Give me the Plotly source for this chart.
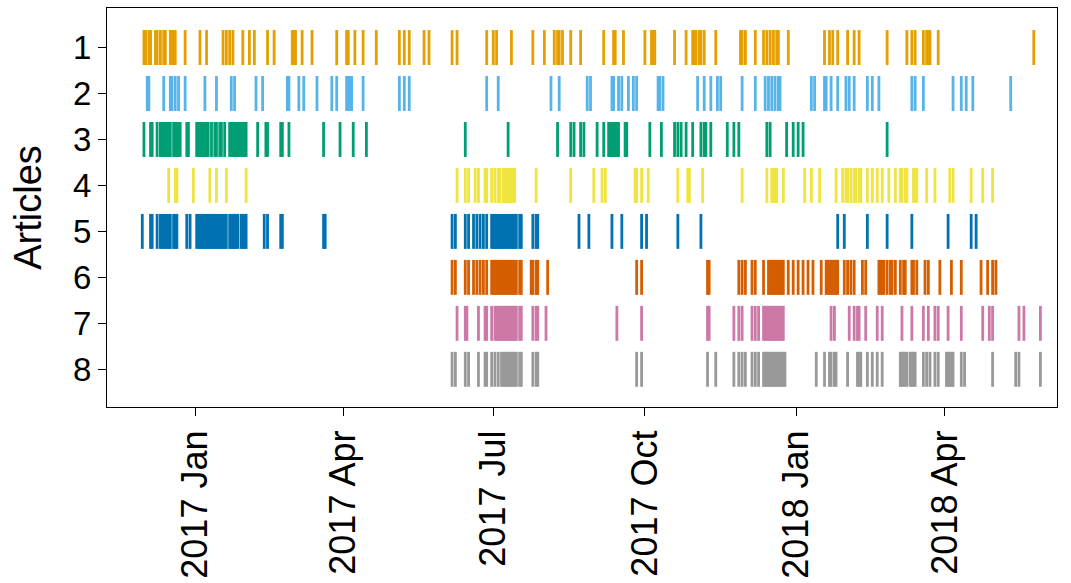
import datetime as dt
import plotly.graph_objects as go

# Event dates, as days after 2017-01-01, per article
base_date = dt.date(2017, 1, 1)
row_labels = ["1", "2", "3", "4", "5", "6", "7", "8"]
colors = ["#E69F00", "#56B4E9", "#009E73", "#F0E442",
          "#0072B2", "#D55E00", "#CC79A7", "#999999"]

art1_days = [-31, -30, -28, -27, -24, -23, -21, -19, -18, -15, -14, -13, -12, -6, 3, 7, 17, 19, 21, 23,
             29, 33, 36, 44, 48, 59, 60, 61, 65, 71, 86, 92, 93, 97, 102, 110, 124, 127, 130,
             139, 142, 156, 159, 177, 181, 183, 192, 205, 212, 218, 220, 221, 223, 228, 234, 248,
             254, 255, 260, 273, 277, 278, 279, 291, 298, 302, 303, 304, 306, 307, 309, 316,
             331, 332, 334, 340, 345, 347, 349, 351, 353, 354, 360, 382, 385, 387, 390, 396, 400,
             403, 420, 432, 435, 437, 442, 444, 445, 446, 451, 509]
art2_days = [-29, -28, -19, -15, -14, -12, -10, -6, 6, 13, 22, 24, 37, 41, 56, 57, 63, 66, 74, 83,
             86, 92, 93, 94, 95, 102, 124, 127, 130,
             177, 184, 216, 221, 238, 240, 253, 254, 257, 259, 263, 266, 268, 281, 282, 284, 305,
             309, 313, 317, 319,
             332, 340, 346, 348, 350, 352, 354, 355, 374, 376, 382, 383, 386, 390, 395, 397, 400,
             408, 411, 415, 435, 437, 442, 460, 465, 468, 472, 495]
art3_days = [-31, -27, -26, -23, -21, -20, -19, -18, -17, -16, -15, -13, -12, -11, -10, -9, -5, -4,
             1, 2, 3, 4, 5, 6, 7, 8, 10, 12, 13, 15, 16, 18, 21, 22, 23, 24, 25, 26, 27, 28, 29, 30,
             31, 38, 43, 44, 52, 53, 57, 78, 88, 96, 104,
             164, 190, 220, 228, 230, 234, 236, 244, 248, 251, 252, 253, 254, 255, 256, 257, 261,
             262, 276, 283, 291, 293, 295, 298, 302, 307, 309, 310, 313, 323, 327, 330,
             347, 349, 359, 363, 366, 369, 420]
art4_days = [-16, -12, -11, -1, 9, 13, 19, 31,
             159, 164, 166, 170, 172, 176, 177, 180, 182, 184, 185, 187, 188, 189, 190, 191, 192,
             193, 194, 207, 228, 242, 247, 249, 267, 268, 271, 275, 293, 299, 300, 308,
             332, 347, 350, 351, 352, 353, 357, 370, 374, 379, 389, 393, 395, 396, 398, 400, 401,
             403, 404, 408, 411, 414, 417, 421, 425, 428, 429, 431, 432, 436, 437, 438, 444, 449,
             458, 460, 471, 478, 484]
art5_days = [-32, -27, -26, -23, -21, -20, -19, -18, -17, -16, -15, -13, -12, -11, -5, -3,
             1, 2, 3, 4, 5, 6, 7, 8, 9, 10, 11, 12, 13, 14, 15, 16, 17, 18, 19, 21, 22, 23, 24, 25,
             26, 28, 29, 30, 31, 42, 44, 52, 53, 78, 79,
             156, 158, 164, 166, 169, 171, 173, 175, 177, 180, 181, 182, 183, 184, 185, 186, 187,
             188, 189, 190, 191, 192, 193, 194, 195, 197, 198, 205, 207, 208, 233, 239, 253, 259,
             271, 274, 293, 307,
             390, 394, 408, 420, 435, 457, 471, 474]
art6_days = [156, 158, 164, 166, 169, 171, 173, 175, 177, 180, 181, 182, 183, 184, 185, 186, 187,
             188, 189, 190, 191, 192, 193, 194, 195, 197, 198, 204, 205, 207, 208, 214, 268, 271,
             311, 312, 330, 332, 334, 338, 340, 345, 348, 349, 350, 351, 352, 353, 354, 355, 356,
             357, 360, 363, 366, 369, 372, 375, 380, 383, 384, 385, 386, 387, 388, 389, 390, 394,
             396, 398, 400, 405, 407, 415, 416, 417, 418, 420, 422, 423, 425, 428, 430, 431, 435,
             436, 438, 443, 445, 452, 459, 465, 477, 481, 484, 486]
art7_days = [159, 164, 165, 172, 176, 177, 180, 182, 183, 184, 185, 186, 187, 188, 189, 190, 191,
             192, 193, 194, 195, 197, 198, 205, 207, 208, 213, 256, 271, 311, 312, 327, 330, 332,
             338, 340, 342, 345, 346, 347, 348, 349, 350, 351, 352, 353, 354, 355, 356, 357, 386,
             388, 397, 400, 402, 403, 407, 414, 417, 429, 435, 442, 445, 449, 451, 457, 465, 478,
             482, 484, 500, 503, 513]
art8_days = [156, 158, 164, 166, 172, 176, 177, 180, 182, 184, 186, 187, 188, 189, 190, 191, 192,
             193, 194, 195, 197, 198, 205, 207, 208, 268, 271, 311, 316, 327, 330, 332, 334, 338,
             340, 342, 345, 346, 347, 348, 349, 350, 351, 352, 353, 354, 355, 356, 357, 358, 377,
             382, 385, 386, 388, 389, 396, 402, 403, 404, 408, 411, 414, 417, 428, 429, 430, 431,
             432, 434, 435, 436, 437, 442, 444, 446, 449, 451, 456, 457, 458, 459, 460, 465, 467,
             484, 498, 500, 513]

x_tick_dates = ["2017-01-01", "2017-04-01", "2017-07-01", "2017-10-01", "2018-01-01", "2018-04-01"]
x_tick_text = ["2017 Jan", "2017 Apr", "2017 Jul", "2017 Oct", "2018 Jan", "2018 Apr"]

events = [art1_days, art2_days, art3_days, art4_days,
          art5_days, art6_days, art7_days, art8_days]

half = 0.38
fig = go.Figure()
for i, (days, col) in enumerate(zip(events, colors)):
    row = i + 1
    xs, ys = [], []
    for d in days:
        t = base_date + dt.timedelta(days=d)
        xs += [t, t, None]
        ys += [row - half, row + half, None]
    fig.add_trace(go.Scatter(x=xs, y=ys, mode="lines",
                             line=dict(color=col, width=2.8),
                             hoverinfo="skip", showlegend=False))

font_family = "Liberation Sans, Arial, Helvetica, sans-serif"
fig.update_layout(
    width=1071, height=583,
    margin=dict(l=107, r=14, t=8, b=176),
    paper_bgcolor="white", plot_bgcolor="white",
    font=dict(family=font_family, size=33, color="black"),
)
fig.update_xaxes(
    type="date", range=["2016-11-08 14:00", "2018-06-08 02:00"],
    tickvals=x_tick_dates, ticktext=x_tick_text, tickangle=-90,
    tickfont=dict(family=font_family, size=36, color="black"),
    ticks="outside", ticklen=8, tickwidth=1.3, tickcolor="black",
    showline=True, linecolor="black", linewidth=1.3, mirror=True,
    showgrid=False, zeroline=False, automargin=False,
)
fig.update_yaxes(
    range=[8.82, 0.14], tickvals=list(range(1, 9)), ticktext=row_labels,
    tickfont=dict(family=font_family, size=33, color="black"),
    ticks="outside", ticklen=8, tickwidth=1.3, tickcolor="black",
    showline=True, linecolor="black", linewidth=1.3, mirror=True,
    showgrid=False, zeroline=False, automargin=False,
    title=dict(text="Articles", standoff=19,
               font=dict(family=font_family, size=38, color="black")),
)
fig.write_html("out.html", config={"displayModeBar": False},
               post_script="document.body.style.margin='0';document.body.style.padding='0';")
